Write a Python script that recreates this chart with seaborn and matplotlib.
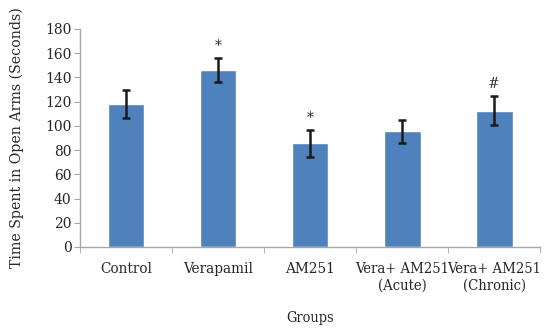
import matplotlib
matplotlib.use("Agg")
import matplotlib.pyplot as plt
from matplotlib.ticker import FixedLocator
import seaborn as sns
import pandas as pd
import numpy as np

# Values
groups = ["Control", "Verapamil", "AM251", "Vera+ AM251\n(Acute)", "Vera+ AM251\n(Chronic)"]
mean_time = [118, 146, 85.5, 95.5, 112.5]
sem_time = [11.5, 10, 11, 9.5, 12]
marks = ["", "*", "*", "", "#"]

BAR_COLOR = "#4F81BD"
AXIS_COLOR = "#A6A6A6"


def main():
    sns.set_style("white")
    plt.rcParams['font.family'] = ['DejaVu Serif']

    data = pd.DataFrame({"group": groups, "time": mean_time})

    fig = plt.figure(figsize=(5.44, 3.28), dpi=100)
    ax = fig.add_axes([0.147, 0.247, 0.846, 0.665])

    sns.barplot(data=data, x="group", y="time", color=BAR_COLOR, width=0.4,
                saturation=1, ax=ax)

    # error bars, placed on the bar centres
    centers = [p.get_x() + p.get_width() / 2 for p in ax.patches]
    ax.errorbar(centers, mean_time, yerr=sem_time, fmt="none", ecolor="#1a1a1a",
                elinewidth=1.8, capsize=3, capthick=1.8)

    # significance marks above the error bars
    for x, m, s, mk in zip(centers, mean_time, sem_time, marks):
        if mk:
            ax.text(x, m + s + 4, mk, ha="center", va="bottom", fontsize=10, color="#333333")

    ax.set_ylim(0, 180)
    ax.set_xlim(-0.5, len(groups) - 0.5)
    ax.set_yticks(np.arange(0, 181, 20))
    ax.tick_params(axis="y", labelsize=10, length=4, color=AXIS_COLOR, left=True, pad=2)
    ax.tick_params(axis="x", which="major", length=0, pad=11)
    ax.xaxis.set_minor_locator(FixedLocator(np.arange(-0.5, len(groups), 1.0)))
    ax.tick_params(axis="x", which="minor", length=4, color=AXIS_COLOR, bottom=True)
    for lbl in ax.get_xticklabels():
        # the two-line labels are long, keep them a touch smaller so they don't collide
        lbl.set_fontsize(10.6 if "\n" in lbl.get_text() else 11.0)
        lbl.set_fontstretch("condensed")
        lbl.set_linespacing(1.2)

    for side in ["top", "right"]:
        ax.spines[side].set_visible(False)
    for side in ["left", "bottom"]:
        ax.spines[side].set_color(AXIS_COLOR)
        ax.spines[side].set_linewidth(1)

    ax.set_xlabel("Groups", fontsize=10.4, labelpad=13, fontstretch="condensed")
    ax.set_ylabel("Time Spent in Open Arms (Seconds)", fontsize=10.2, labelpad=15)

    fig.savefig("out.png", dpi=100)


if __name__ == "__main__":
    main()
